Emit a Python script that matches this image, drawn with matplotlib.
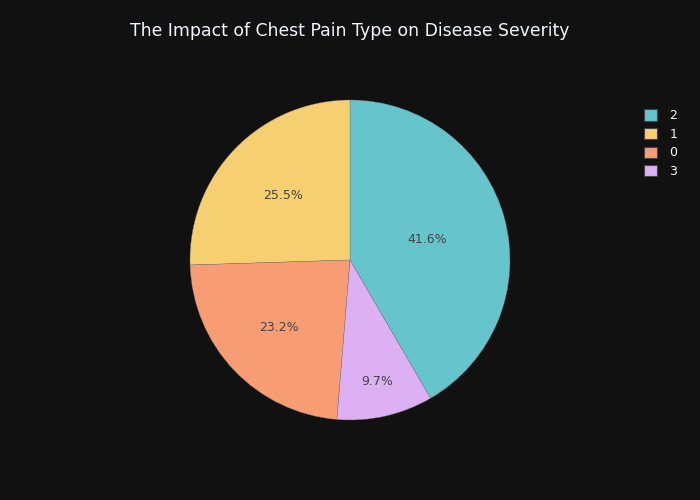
import matplotlib
matplotlib.use("Agg")
import matplotlib.pyplot as plt
import numpy as np

labels = ["2", "1", "0", "3"]
values = [41.6, 25.5, 23.2, 9.7]
colors = ["#66C5CC", "#F6CF71", "#F89C74", "#DCB0F2"]
label_dist = [0.50, 0.58, 0.61, 0.78]

bg = "#111111"
plt.rcParams["font.family"] = ["DejaVu Sans"]

fig = plt.figure(figsize=(7, 5), dpi=100, facecolor=bg)
ax = fig.add_axes([190 / 700, 80 / 500, 320 / 700, 320 / 500])
ax.set_facecolor(bg)

total = sum(values)
start = 90 - values[0] / total * 360
wedges, texts, autotexts = ax.pie(
    values, colors=colors, startangle=start, counterclock=True,
    autopct="%1.1f%%", pctdistance=0.6,
    wedgeprops=dict(edgecolor="#777777", linewidth=0.25),
    textprops=dict(color="#444444", fontsize=9),
)
for w, t, d in zip(wedges, autotexts, label_dist):
    ang = np.deg2rad((w.theta1 + w.theta2) / 2)
    t.set_position((d * np.cos(ang), d * np.sin(ang)))
ax.set_xlim(-1, 1)
ax.set_ylim(-1, 1)
ax.set_aspect("equal")
ax.axis("off")

fig.text(350 / 700, 1 - 31 / 500, "The Impact of Chest Pain Type on Disease Severity",
         ha="center", va="center", color="#f2f5fa", fontsize=12.4)

leg = fig.legend(wedges, labels, loc="upper left", bbox_to_anchor=(633 / 700, 1 - 98 / 500),
                 frameon=False, fontsize=9, handlelength=1.0, handleheight=1.0,
                 handletextpad=1.0, labelspacing=0.45, labelcolor="#f2f5fa")
for h in leg.legend_handles:
    h.set_edgecolor("#444444")
    h.set_linewidth(0.8)

fig.savefig("out.png", dpi=100, facecolor=bg)
